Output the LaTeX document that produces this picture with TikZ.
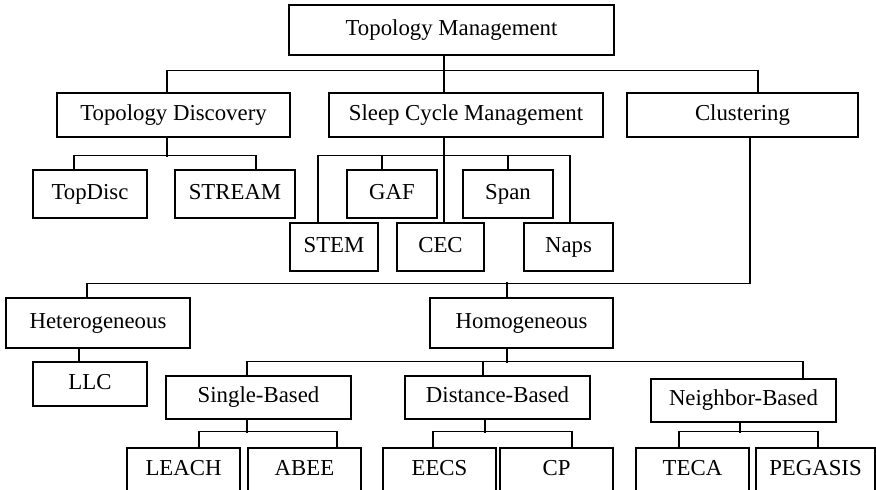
\documentclass[tikz,border=0pt]{standalone}
\usepackage{fontspec}
\setmainfont{Liberation Serif}
\usepackage{tikz}
\usetikzlibrary{arrows,shapes,positioning}

\begin{document}
\begin{tikzpicture}[x=0.5pt, y=-0.5pt, line width=0.65pt,
  box/.style={draw, inner sep=0pt, text height=8pt, text depth=2.6pt, font=\fontsize{11.4}{13}\selectfont},
  tall/.style={box, minimum height=25pt},
  mid/.style={box, minimum height=22pt},
  low/.style={box, minimum height=24pt}]
\useasboundingbox (0,0) rectangle (876,489);

% top level
\node [tall, minimum width=162.5pt] (tm) at (451.5,30) {Topology Management};

\node [mid, minimum width=116.5pt] (td) at (173.5,115) {Topology Discovery};
\node [mid, minimum width=137pt] (scm) at (466,115) {Sleep Cycle Management};
\node [mid, minimum width=115.5pt] (cl) at (742.5,115) {Clustering};

\draw (tm.south -| 444,0) -- (scm.north -| 444,0);
\draw (td.north -| 167,0) -- ++(0,-22) -| (cl.north -| 758,0);

% % % % % % % % % % % % % % % % % % % % % % % % % %

\node [low, minimum width=57pt] (topdisc) at (90,194) {TopDisc};
\node [low, minimum width=60pt] (stream) at (235,194) {STREAM};

\draw (td.south -| 167,0) -- ++(0,19);
\draw (topdisc.north -| 74,0) -- ++(0,-14) -| (stream.north -| 256,0);

\node [low, minimum width=45pt] (gaf) at (392,194) {GAF};
\node [low, minimum width=45pt] (span) at (508,194) {Span};
\node [low, minimum width=44pt] (stem) at (334,247) {STEM};
\node [low, minimum width=43.5pt] (cec) at (440.5,247) {CEC};
\node [low, minimum width=44.5pt] (naps) at (568.5,247) {Naps};

\draw (scm.south -| 444,0) -- (cec.north -| 444,0);
\draw (stem.north -| 318,0) -- ++(0,-67) -| (naps.north -| 570,0);
\draw (gaf.north -| 382,0) -- ++(0,-14);
\draw (span.north -| 508,0) -- ++(0,-14);

% % % % % % % % % % % % % % % % % % % % % % % % % %

\node [tall, minimum width=92pt] (het) at (98,323) {Heterogeneous};
\node [tall, minimum width=91.5pt] (hom) at (521.5,323) {Homogeneous};

\draw (cl.south -| 750,0) -- ++(0,146) -| (het.north -| 87,0);
\draw (hom.north -| 507,0) -- ++(0,-15);

\node [mid, minimum width=57pt] (llc) at (90,384) {LLC};
\draw (het.south -| 79,0) -- (llc.north -| 79,0);

\node [box, minimum height=21.5pt, minimum width=92.5pt] (sb) at (258.5,397.5) {Single-Based};
\node [box, minimum height=21.5pt, minimum width=92.5pt] (db) at (497.5,397.5) {Distance-Based};
\node [box, minimum height=21.5pt, minimum width=92.5pt] (nb) at (743.5,400.5) {Neighbor-Based};

\draw (hom.south -| 507,0) -- ++(0,14);
\draw (sb.north -| 247,0) -- ++(0,-14) -| (nb.north -| 803,0);
\draw (db.north -| 483,0) -- ++(0,-14);

% % % % % % % % % % % % % % % % % % % % % % % % % %

\node [mid, minimum width=56.5pt] (leach) at (183.5,470) {LEACH};
\node [mid, minimum width=56.5pt] (abee) at (304.5,470) {ABEE};
\node [mid, minimum width=56.5pt] (eecs) at (439.5,470) {EECS};
\node [mid, minimum width=56.5pt] (cp) at (556.5,470) {CP};
\node [mid, minimum width=56.5pt] (teca) at (692.5,470) {TECA};
\node [mid, minimum width=59.5pt] (pegasis) at (815.5,470) {PEGASIS};

\draw (sb.south -| 247,0) -- ++(0,13);
\draw (leach.north -| 199,0) -- ++(0,-16) -| (abee.north -| 337,0);
\draw (db.south -| 485,0) -- ++(0,13);
\draw (eecs.north -| 433,0) -- ++(0,-16) -| (cp.north -| 572,0);
\draw (nb.south -| 740,0) -- ++(0,10);
\draw (teca.north -| 679,0) -- ++(0,-16) -| (pegasis.north -| 818,0);
\end{tikzpicture}
\end{document}
